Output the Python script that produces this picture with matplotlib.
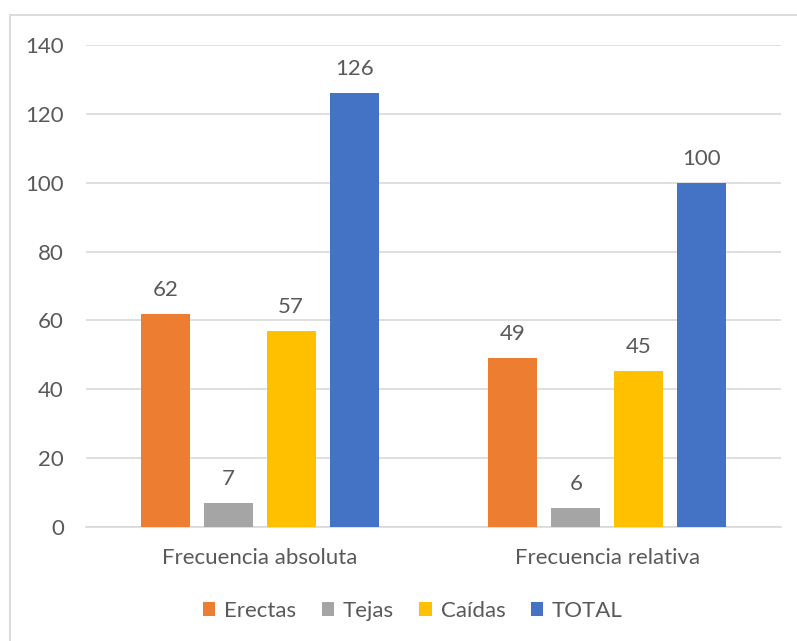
import matplotlib
matplotlib.use("Agg")
import matplotlib.pyplot as plt
from matplotlib.patches import Rectangle, Patch
import numpy as np

categories = ["Frecuencia absoluta", "Frecuencia relativa"]
series_names = ["Erectas", "Tejas", "Caídas", "TOTAL"]
erectas = [62, 49.2]
tejas = [7, 5.6]
caidas = [57, 45.2]
total = [126, 100]
y_ticks = [0, 20, 40, 60, 80, 100, 120, 140]

colors = ["#ED7D31", "#A5A5A5", "#FFC000", "#4472C4"]
text_color = "#595959"
grid_color = "#D9D9D9"
fs = 16

plt.rcParams["font.family"] = ["Lato", "DejaVu Sans"]

fig = plt.figure(figsize=(7.97, 6.41), dpi=100)
ax = fig.add_axes([86 / 797, 1 - 527 / 641, (781 - 86) / 797, (527 - 45) / 641])

# chart frame
fig.patches.append(Rectangle((10 / 797, -0.05), 1.2, 1 - 15 / 641 + 0.05,
                             transform=fig.transFigure, fill=False,
                             edgecolor="#D9D9D9", linewidth=1.3))

x = np.arange(len(categories))
width = 0.141
step = 0.181
data = [erectas, tejas, caidas, total]
for i, (name, vals, c) in enumerate(zip(series_names, data, colors)):
    pos = x + (i - 1.5) * step
    bars = ax.bar(pos, vals, width, color=c, label=name, zorder=3)
    for b, v in zip(bars, vals):
        ax.annotate(f"{v:.0f}", (b.get_x() + b.get_width() / 2, v),
                    xytext=(0, 10), textcoords="offset points",
                    ha="center", va="bottom", fontsize=fs, color=text_color)

ax.set_xlim(-0.5, 1.5)
ax.set_ylim(0, 140)
ax.set_yticks(y_ticks)
ax.set_xticks(x)
ax.set_xticklabels(categories)
ax.tick_params(axis="y", length=0, pad=16, labelsize=fs, labelcolor=text_color)
ax.tick_params(axis="x", length=0, pad=15, labelsize=fs, labelcolor=text_color)
ax.grid(axis="y", color=grid_color, linewidth=1.2, zorder=0)
for s in ["left", "right", "top"]:
    ax.spines[s].set_visible(False)
ax.spines["bottom"].set_color(grid_color)
ax.spines["bottom"].set_linewidth(1.2)

handles = [Patch(facecolor=c, edgecolor="none") for c in colors]
fig.legend(handles, series_names, loc="center", bbox_to_anchor=(0.518, 1 - 611 / 641),
           ncol=4, frameon=False, fontsize=fs, labelcolor=text_color,
           handlelength=0.55, handleheight=0.55, handletextpad=0.4, columnspacing=1.15)

fig.savefig("out.png", dpi=100)
